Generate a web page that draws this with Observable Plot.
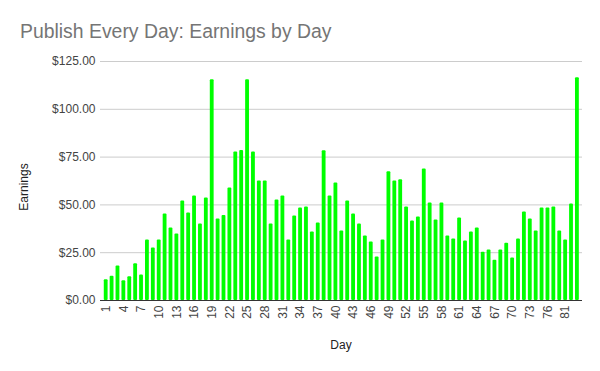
<!DOCTYPE html>
<html>
<head>
<meta charset="utf-8">
<script src="https://cdn.jsdelivr.net/npm/d3@7"></script>
<script src="https://cdn.jsdelivr.net/npm/@observablehq/plot@0.6"></script>
<style>
  html, body { margin: 0; padding: 0; background: #fff; }
  #wrap { position: relative; width: 600px; height: 371px; overflow: hidden; font-family: "Liberation Sans", Arial, sans-serif; }
  #title { position: absolute; left: 20px; top: 21px; font-size: 19.4px; line-height: 20px; color: #757575; white-space: nowrap; }
  #ylab { position: absolute; left: 24px; top: 187px; font-size: 12px; color: #222; transform: translate(-50%, -50%) rotate(-90deg); white-space: nowrap; }
  #xlab { position: absolute; left: 341px; top: 345px; font-size: 12px; color: #222; transform: translate(-50%, -50%); white-space: nowrap; }
  #chart { position: absolute; left: 0; top: 50px; }
  #chart svg { font-family: "Liberation Sans", Arial, sans-serif; }
</style>
</head>
<body>
<div id="wrap">
  <div id="title">Publish Every Day: Earnings by Day</div>
  <div id="chart"></div>
  <div id="ylab">Earnings</div>
  <div id="xlab">Day</div>
</div>
<script>
const days = [
  1,2,3,4,5,6,7,8,9,10,11,12,13,14,15,16,17,18,19,20,
  21,22,23,24,25,26,27,28,29,30,31,32,33,34,35,36,37,38,39,40,
  41,42,43,44,45,46,47,48,49,50,51,52,53,54,55,56,57,58,59,60,
  61,62,63,64,65,66,67,68,69,70,71,72,73,74,75,76,77,78,81,82,83
];
const earnings = [
  10.8,12.7,18.0,10.3,12.4,19.2,13.4,31.6,27.4,31.6,
  45.2,37.9,34.8,52.1,45.8,54.7,40.0,53.6,115.5,42.6,
  44.4,58.9,77.7,78.4,115.5,77.7,62.5,62.5,40.0,52.6,
  54.7,31.6,44.2,48.4,48.9,35.8,40.5,78.3,54.7,61.5,
  36.3,52.1,45.2,40.0,33.7,30.6,22.7,31.6,67.3,62.5,
  63.1,48.9,41.6,43.7,68.8,51.0,42.1,51.0,33.7,32.1,
  43.1,31.1,35.8,37.9,25.3,26.4,21.1,26.4,30.0,22.2,
  32.1,46.3,42.6,36.3,48.4,48.4,48.9,36.3,31.6,50.5,116.5
];
const yTicks = [0, 25, 50, 75, 100, 125];

const data = days.map((d, i) => ({day: String(d), value: earnings[i]}));
const dayLabels = days.map(String);

const chart = Plot.plot({
  width: 600,
  height: 321,
  marginTop: 11,
  marginBottom: 71,
  marginLeft: 100,
  marginRight: 18,
  style: {fontSize: "12px", color: "#444", background: "transparent"},
  x: {
    type: "band",
    domain: dayLabels,
    range: [102.6, 580],
    paddingInner: 0.35,
    paddingOuter: 0.2,
    tickRotate: -90,
    tickSize: 0,
    tickPadding: 5,
    tickFormat: d => (dayLabels.indexOf(d) % 3 === 0 ? d : ""),
    label: null
  },
  y: {
    domain: [0, 125],
    ticks: yTicks,
    tickFormat: d3.format("$.2f"),
    tickSize: 0,
    tickPadding: 5,
    label: null
  },
  marks: [
    Plot.ruleY(yTicks.slice(1), {stroke: "#cccccc", strokeWidth: 1}),
    Plot.barY(data, {x: "day", y: "value", fill: "#00ff00", rx: 1}),
    Plot.ruleY([0], {stroke: "#333333", strokeWidth: 1})
  ]
});
document.getElementById("chart").appendChild(chart);
</script>
</body>
</html>
